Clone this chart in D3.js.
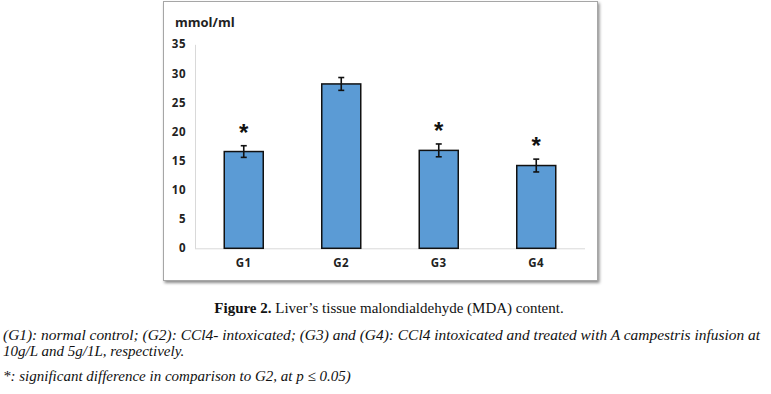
<!DOCTYPE html>
<html>
<head>
<meta charset="utf-8">
<script src="https://cdn.jsdelivr.net/npm/d3@7"></script>
<style>
  body { margin: 0; background: #fff; }
  svg { display: block; }
  .tick text { font-family: "Open Sans", "DejaVu Sans", sans-serif; font-weight: bold; font-size: 11.5px; letter-spacing: 0.5px; fill: #222; }
  .caption { font-family: "Liberation Serif", "Times New Roman", serif; font-size: 15px; fill: #111; }
</style>
</head>
<body>
<svg id="chart" width="771" height="394"></svg>
<script>
// groups, means and error (SD)
const groups = ['G1', 'G2', 'G3', 'G4'];
const mda = [16.6, 28.2, 16.8, 14.2];
const err = [1.0, 1.1, 1.1, 1.1];
const signif = [true, false, true, true];
const yTicks = [0, 5, 10, 15, 20, 25, 30, 35];

const svg = d3.select('#chart');

// frame of the chart with its soft shadow
const defs = svg.append('defs');
const f = defs.append('filter').attr('id', 'shadow')
  .attr('x', '-5%').attr('y', '-5%').attr('width', '112%').attr('height', '115%');
f.append('feDropShadow').attr('dx', 1.5).attr('dy', 2).attr('stdDeviation', 1.5)
  .attr('flood-color', '#000').attr('flood-opacity', 0.45);

svg.append('rect')
  .attr('x', 163.5).attr('y', 1.5).attr('width', 434).attr('height', 279)
  .attr('fill', '#fff').attr('stroke', '#a6a6a6').attr('stroke-width', 1)
  .attr('filter', 'url(#shadow)');

const plot = {left: 195, right: 585, top: 44.3, bottom: 248.3};

const x = d3.scaleBand().domain(groups)
  .range([plot.left, plot.right]).paddingInner(0.6).paddingOuter(0.3);
const y = d3.scaleLinear().domain([0, 35]).range([plot.bottom, plot.top]);

// y axis (no tick marks, light line)
const gy = svg.append('g')
  .attr('transform', 'translate(' + plot.left + ',0)')
  .call(d3.axisLeft(y).tickValues(yTicks).tickSize(0).tickPadding(9));
gy.select('.domain').attr('stroke', '#d9d9d9');

// x axis
const gx = svg.append('g')
  .attr('transform', 'translate(0,' + plot.bottom + ')')
  .call(d3.axisBottom(x).tickSize(0).tickPadding(11));
gx.select('.domain').attr('stroke', '#d9d9d9').attr('d', 'M' + plot.left + ',0.5H' + plot.right);

svg.append('text')
  .attr('x', 175).attr('y', 27)
  .style('font-family', '"Open Sans", "DejaVu Sans", sans-serif')
  .style('font-weight', 'bold').style('font-size', '13px').attr('fill', '#222')
  .text('mmol/ml');

// bars
svg.selectAll('rect.bar').data(groups).enter().append('rect')
  .attr('class', 'bar')
  .attr('x', d => x(d))
  .attr('y', (d, i) => y(mda[i]))
  .attr('width', x.bandwidth())
  .attr('height', (d, i) => y(0) - y(mda[i]))
  .attr('fill', '#5b9bd5').attr('stroke', '#111').attr('stroke-width', 1.5);

// error bars
const eb = svg.selectAll('g.err').data(groups).enter().append('g')
  .attr('class', 'err')
  .attr('transform', d => 'translate(' + (x(d) + x.bandwidth() / 2) + ',0)');
eb.append('line')
  .attr('y1', (d, i) => y(mda[i] + err[i])).attr('y2', (d, i) => y(mda[i] - err[i]))
  .attr('stroke', '#111').attr('stroke-width', 1.6);
eb.append('line')
  .attr('x1', -3).attr('x2', 3)
  .attr('y1', (d, i) => y(mda[i] + err[i])).attr('y2', (d, i) => y(mda[i] + err[i]))
  .attr('stroke', '#111').attr('stroke-width', 1.6);
eb.append('line')
  .attr('x1', -3).attr('x2', 3)
  .attr('y1', (d, i) => y(mda[i] - err[i])).attr('y2', (d, i) => y(mda[i] - err[i]))
  .attr('stroke', '#111').attr('stroke-width', 1.6);

// significance stars
svg.selectAll('text.star').data(groups.filter((d, i) => signif[i])).enter().append('text')
  .attr('class', 'star')
  .attr('x', d => x(d) + x.bandwidth() / 2)
  .attr('y', d => { const i = groups.indexOf(d); return y(mda[i] + err[i]) - 5; })
  .attr('text-anchor', 'middle')
  .style('font-family', '"Liberation Sans", sans-serif').style('font-weight', 'bold').style('font-size', '24px')
  .attr('fill', '#111')
  .text('*');

// caption
const cap = svg.append('text').attr('class', 'caption')
  .attr('x', 389).attr('y', 313).attr('text-anchor', 'middle');
cap.append('tspan').style('font-weight', 'bold').text('Figure 2.');
cap.append('tspan').text(' Liver\u2019s tissue malondialdehyde (MDA) content.');

svg.append('text').attr('class', 'caption').style('font-style', 'italic')
  .attr('x', 3).attr('y', 340).attr('textLength', 757).attr('lengthAdjust', 'spacingAndGlyphs')
  .text('(G1): normal control; (G2): CCl4- intoxicated; (G3) and (G4): CCl4 intoxicated and treated with A campestris infusion at');
svg.append('text').attr('class', 'caption').style('font-style', 'italic')
  .attr('x', 3).attr('y', 356)
  .text('10g/L and 5g/1L, respectively.');
svg.append('text').attr('class', 'caption').style('font-style', 'italic')
  .attr('x', 3).attr('y', 381)
  .text('*: significant difference in comparison to G2, at p \u2264 0.05)');
</script>
</body>
</html>
